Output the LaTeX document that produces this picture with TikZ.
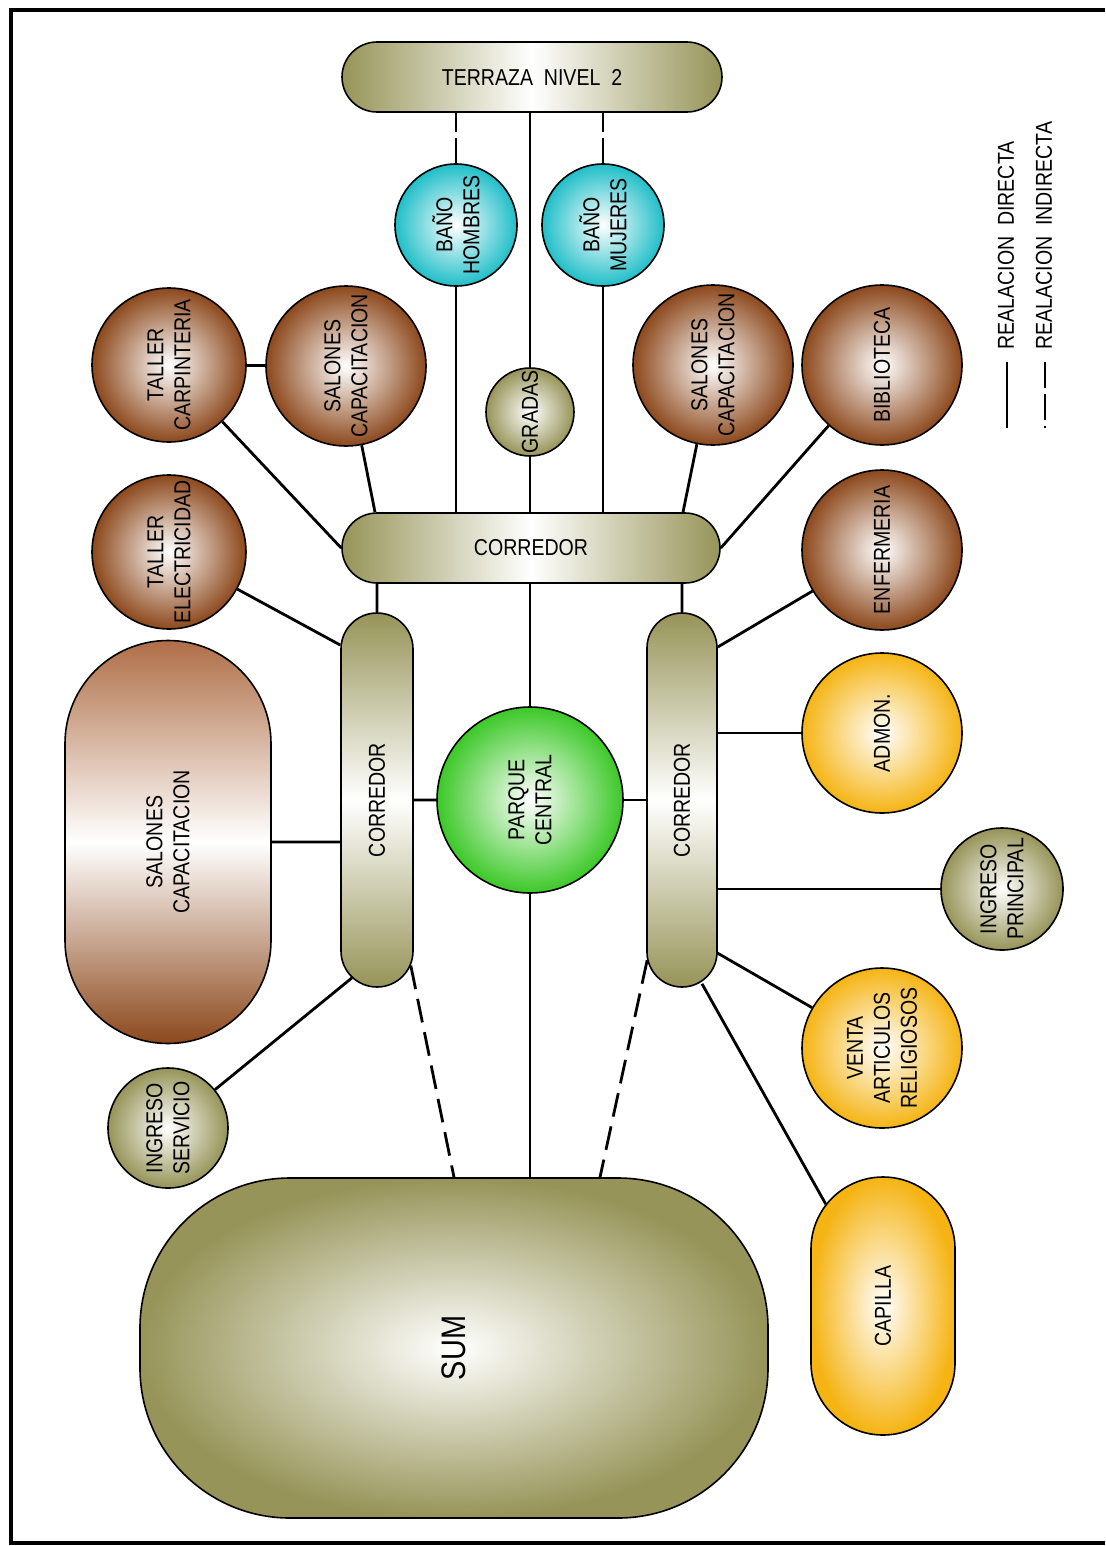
\documentclass[tikz,border=0pt]{standalone}
\usepackage{fontspec}
\setmainfont{Liberation Sans}[FakeStretch=0.85]
\usetikzlibrary{positioning, shapes.misc, calc}

\definecolor{cCafe}{RGB}{140,72,28}
\definecolor{cCafeClaro}{RGB}{175,110,70}
\definecolor{cOlivo}{RGB}{150,148,88}
\definecolor{cCeleste}{RGB}{32,190,200}
\definecolor{cVerde}{RGB}{60,200,40}
\definecolor{cAmarillo}{RGB}{245,180,20}

\begin{document}
\begin{tikzpicture}[x=0.5pt, y=-0.5pt,
    directa/.style={line width=1.4pt},
    indirecta/.style={line width=1.4pt, dash pattern=on 12pt off 5pt},
    zona/.style={draw=black, line width=0.8pt, inner sep=0pt, align=center,
                 font=\fontsize{11.5}{13.5}\selectfont},
    bola/.style={zona, circle, minimum size=#1, rotate=90},
    tubo/.style={zona, rounded rectangle},
    cafe/.style={inner color=white, outer color=cCafe},
    olivo/.style={inner color=white, outer color=cOlivo},
    celeste/.style={inner color=white, outer color=cCeleste},
    verde/.style={inner color=white, outer color=cVerde},
    amarillo/.style={inner color=white, outer color=cAmarillo},
    pasillo/.style={tubo, left color=cOlivo, right color=cOlivo, middle color=white},
    pasilloV/.style={tubo, rotate=90, top color=cOlivo, bottom color=cOlivo, middle color=white},
    leyenda/.style={rotate=90, anchor=west, inner sep=0pt, font=\fontsize{11.5}{13.5}\selectfont}
]
    \useasboundingbox (0,0) rectangle (1105,1546);

    % Marco
    \draw[line width=2pt] (1105,10) -- (11,10) -- (11,1543) -- (1105,1543);

    % Nivel 2
    \node[pasillo, minimum width=190pt, minimum height=35pt] (ter) at (532,77) {TERRAZA\ \ NIVEL\ \ 2};
    \node[bola=61pt, celeste] (bh) at (456,225) {BAÑO\\HOMBRES};
    \node[bola=61pt, celeste] (bm) at (603,225) {BAÑO\\MUJERES};
    \node[bola=44pt, olivo] (gra) at (530,412) {GRADAS};

    % Corredor superior y sus espacios
    \node[pasillo, minimum width=189pt, minimum height=35pt] (cor) at (531,548) {CORREDOR};
    \node[bola=77pt, cafe] (tca) at (169,365) {TALLER\\CARPINTERIA};
    \node[bola=80pt, cafe] (salI) at (346,366) {SALONES\\CAPACITACION};
    \node[bola=80pt, cafe] (salD) at (713,365) {SALONES\\CAPACITACION};
    \node[bola=80pt, cafe] (bib) at (882,365) {BIBLIOTECA};
    \node[bola=77pt, cafe] (tel) at (169,552) {TALLER\\ELECTRICIDAD};
    \node[bola=80pt, cafe] (enf) at (882,550) {ENFERMERIA};

    % Corredores laterales
    \node[pasilloV, minimum width=187pt, minimum height=36pt] (corI) at (377,800) {CORREDOR};
    \node[pasilloV, minimum width=187pt, minimum height=35pt] (corD) at (682,800) {CORREDOR};
    \node[bola=93pt, verde] (par) at (530,800) {PARQUE\\CENTRAL};

    % Lado derecho
    \node[bola=80pt, amarillo] (adm) at (882,733) {ADMON.};
    \node[bola=61pt, olivo] (ing) at (1002,889) {INGRESO\\PRINCIPAL};
    \node[bola=80pt, amarillo] (ven) at (882,1048) {VENTA\\ARTICULOS\\RELIGIOSOS};
    \node[tubo, rotate=90, minimum width=129pt, minimum height=72pt, amarillo] (cap) at (883,1306) {CAPILLA};

    % Lado izquierdo
    \node[tubo, rotate=90, minimum width=201.5pt, minimum height=103pt,
          top color=cCafeClaro, bottom color=cCafe, middle color=white] (salG) at (168,842) {SALONES\\CAPACITACION};
    \node[bola=60pt, olivo] (ise) at (168,1128) {INGRESO\\SERVICIO};

    % SUM
    \node[zona, rectangle, rotate=90, rounded corners=75pt, minimum width=170pt, minimum height=314pt,
          inner color=white, outer color=cOlivo, font=\fontsize{17}{19}\selectfont] (sum) at (454,1348) {SUM};

    % Relaciones nivel 2
    \draw[indirecta, dash pattern=on 12.5pt off 3pt] (bh) -- (bh |- ter.south);
    \draw[indirecta, dash pattern=on 12.5pt off 3pt] (bm) -- (bm |- ter.south);
    \draw[directa] (gra) -- (gra |- ter.south);
    \draw[directa] (gra) -- (gra |- cor.north);
    \draw[directa] (bh) -- (bh |- cor.north);
    \draw[directa] (bm) -- (bm |- cor.north);

    % Relaciones corredor superior
    \draw[directa] (tca) -- (salI);
    \draw[directa] (tca) -- (cor.west);
    \draw[directa] (salI) -- ($(cor.north)+(-156,0)$);
    \draw[directa] (salD) -- ($(cor.north)+(152,0)$);
    \draw[directa] (bib) -- (cor.east);
    \draw[directa] (corI) -- (corI |- cor.south);
    \draw[directa] (corD) -- (corD |- cor.south);
    \draw[directa] (par) -- (par |- cor.south);

    % Relaciones corredores laterales
    \draw[directa] (par) -- (corI);
    \draw[directa] (par) -- (corD);
    \draw[directa] (tel) -- ($(corI.north)+(0,-155)$);
    \draw[directa] (salG) -- (salG -| corI.north);
    \draw[directa] (ise) -- ($(corI.west)+(-25,-10)$);
    \draw[directa] (enf) -- ($(corD.south)+(0,-153)$);
    \draw[directa] (adm) -- (adm -| corD.south);
    \draw[directa] (ing) -- (ing -| corD.south);
    \draw[directa] (ven) -- ($(corD.west)+(35,-35)$);
    \draw[directa] ($(corD.west)+(20,-4)$) -- (cap);

    % Relaciones con SUM
    \draw[directa] (par) -- (par |- sum.east);
    \draw[indirecta] (corI) -- (sum.east);
    \draw[indirecta] (corD) -- ($(sum.east)+(146,0)$);

    % Leyenda
    \draw[directa] (1007,362) -- (1007,428);
    \draw[indirecta, dash pattern=on 13pt off 3pt] (1045,362) -- (1045,428);
    \node[leyenda] (leyD) at (1006,350) {REALACION\ \ DIRECTA};
    \node[leyenda] (leyI) at (1044,350) {REALACION\ \ INDIRECTA};

\end{tikzpicture}
\end{document}
